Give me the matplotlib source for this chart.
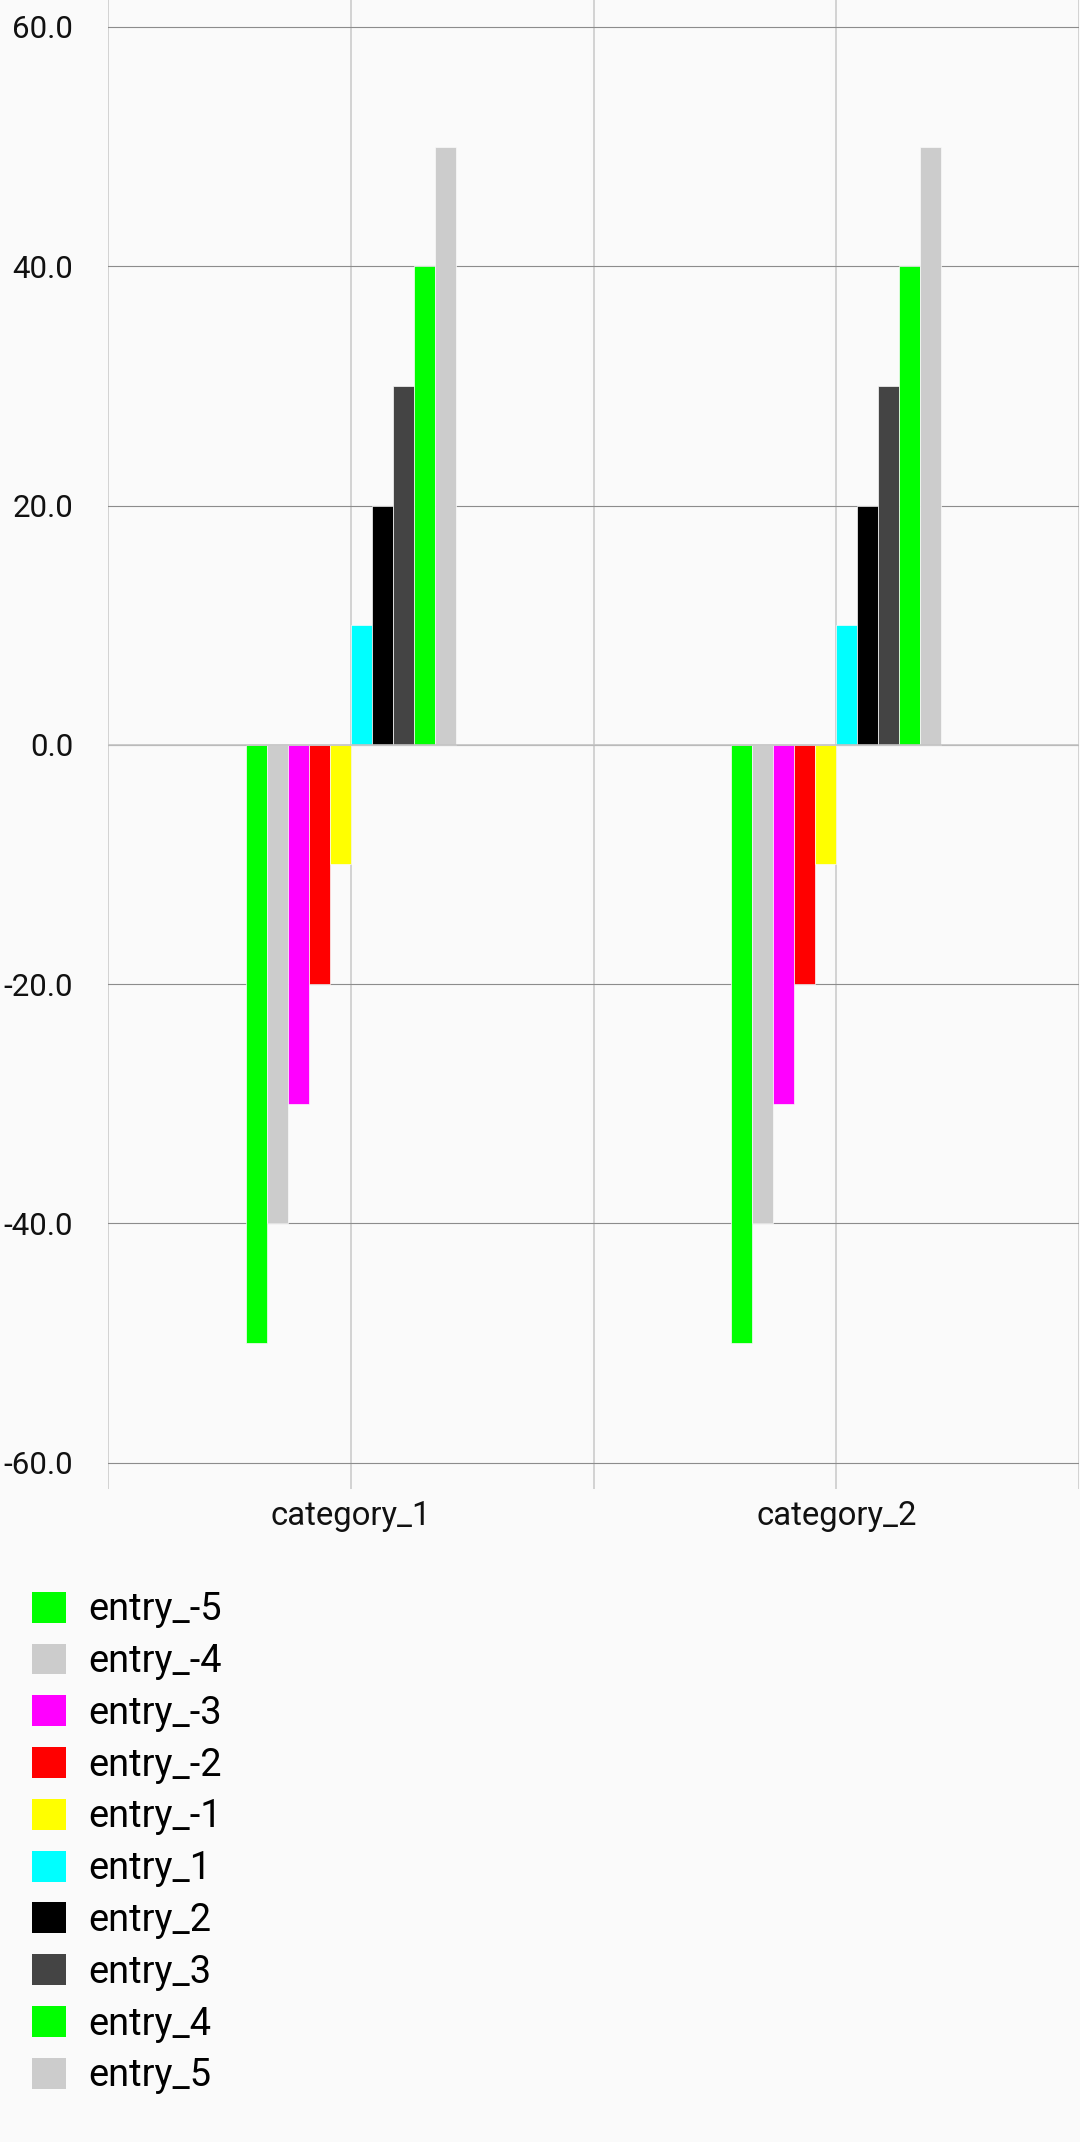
import matplotlib
matplotlib.use("Agg")
import matplotlib.pyplot as plt
from matplotlib.patches import Patch
import numpy as np

plt.rcParams['font.family'] = ['Roboto', 'DejaVu Sans']

categories = ["category_1", "category_2"]
series_labels = ["entry_-5", "entry_-4", "entry_-3", "entry_-2", "entry_-1",
                 "entry_1", "entry_2", "entry_3", "entry_4", "entry_5"]
series_colors = ["#00ff00", "#cccccc", "#ff00ff", "#ff0000", "#ffff00",
                 "#00ffff", "#000000", "#444444", "#00ff00", "#cccccc"]
series_values = [
    [-50, -50],
    [-40, -40],
    [-30, -30],
    [-20, -20],
    [-10, -10],
    [10, 10],
    [20, 20],
    [30, 30],
    [40, 40],
    [50, 50],
]
y_ticks = [-60, -40, -20, 0, 20, 40, 60]

W, H, DPI = 1080, 2142, 100
bg = "#fafafa"
fig = plt.figure(figsize=(W / DPI, H / DPI), dpi=DPI, facecolor=bg)
ax = fig.add_axes([108 / W, 1 - 1489 / H, 971 / W, 1489 / H])
ax.set_facecolor(bg)

x = np.arange(len(categories))
n = len(series_labels)
bw = 0.0432
handles = []
for i, (lab, col, vals) in enumerate(zip(series_labels, series_colors, series_values)):
    ax.bar(x + (i - (n - 1) / 2) * bw, vals, width=bw, color=col,
           edgecolor=bg, linewidth=0.5, zorder=2, label=lab)
    handles.append(Patch(facecolor=col, edgecolor='none', label=lab))

ax.set_xlim(-0.5, 1.5)
ax.set_ylim(-62.2, 62.25)

ax.set_xticks(x)
ax.set_xticklabels(categories)
ax.set_xticks([-0.5, 0.5, 1.5], minor=True)
ax.set_yticks(y_ticks)
ax.set_yticklabels([f"{v:.1f}" for v in y_ticks])

for s in ax.spines.values():
    s.set_visible(False)

ax.tick_params(axis='y', length=0, pad=25, labelsize=22.5, labelcolor='#111111')
ax.tick_params(axis='x', which='both', length=0, pad=8, labelsize=23.7, labelcolor='#111111')

ax.grid(axis='y', color='#8c8c8c', linewidth=0.8, zorder=0)
ax.grid(axis='x', which='both', color='#c8c8c8', linewidth=1.1, zorder=0)
ax.set_axisbelow(True)
ax.axhline(0, color='#c4c4c4', linewidth=1.2, zorder=3)

fig.legend(handles=handles, loc='upper left',
           bbox_to_anchor=(21 / W, 1 - 1580 / H),
           frameon=False, fontsize=27.4, handlelength=0.87, handleheight=0.87,
           handletextpad=0.6, labelspacing=0.388, borderaxespad=0, borderpad=0.3)

fig.savefig("out.png", dpi=DPI, facecolor=bg)
